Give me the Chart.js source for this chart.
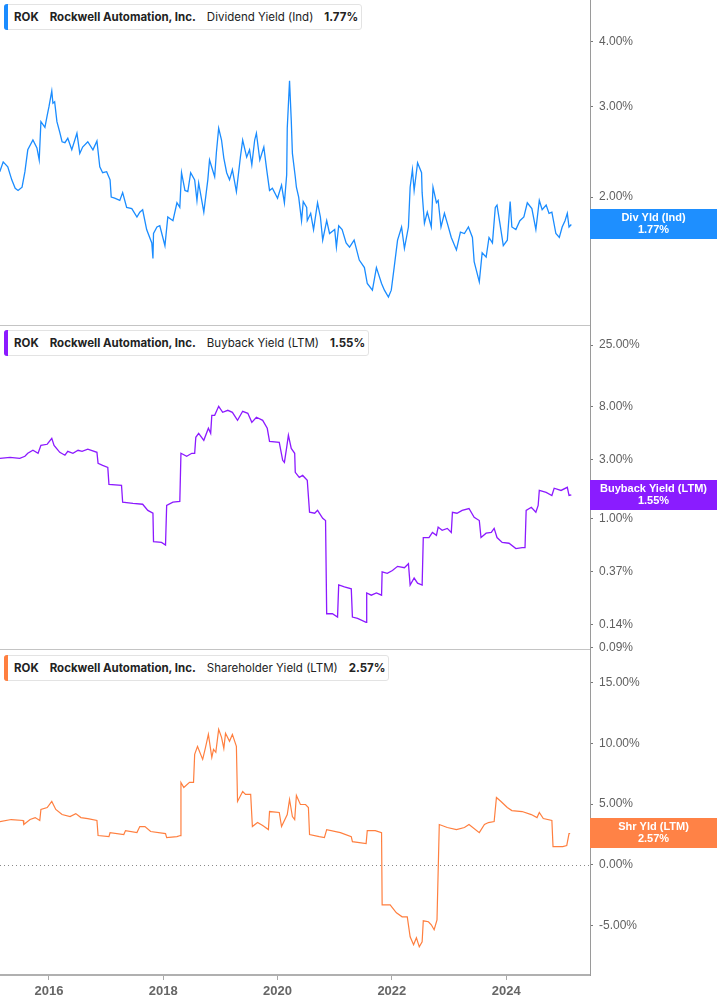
<!DOCTYPE html>
<html>
<head>
<meta charset="utf-8">
<script src="https://cdn.jsdelivr.net/npm/chart.js@4.4.1/dist/chart.umd.min.js"></script>
<style>
  html, body { margin: 0; padding: 0; background: #fff; }
  #wrap { position: relative; width: 717px; height: 1005px; overflow: hidden; }
  canvas { position: absolute; left: 0; }
  .legend {
    position: absolute; left: 4px; height: 26px; box-sizing: border-box;
    display: flex; align-items: center; gap: 11px; padding: 0 3px 0 9px;
    border: 1px solid #e3e3e3; border-radius: 3px; background: #fff;
    font-family: Inter, "Noto Sans", sans-serif; font-size: 11.5px; color: #222; z-index: 5;
  }
  .legend::before {
    content: ''; position: absolute; left: -1px; top: -1px; bottom: -1px; width: 4px;
    border-radius: 3px 0 0 3px; background: var(--c);
  }
  .legend b { font-weight: 700; }
  .sep { position: absolute; left: 0; width: 590px; height: 1px; background: #c4c4c4; z-index: 4; }
</style>
</head>
<body>
<div id="wrap">
  <canvas id="divChart" width="717" height="325" style="top:0"></canvas>
  <canvas id="buyChart" width="717" height="335" style="top:325px"></canvas>
  <canvas id="shrChart" width="717" height="355" style="top:650px"></canvas>
  <div class="sep" style="top:325px"></div>
  <div class="sep" style="top:649px"></div>
  <div class="legend" style="top:4px;--c:#1a8cff"><b>ROK</b><b>Rockwell Automation, Inc.</b><span>Dividend Yield (Ind)</span><b id="divLast"></b></div>
  <div class="legend" style="top:330px;--c:#8c1aff"><b>ROK</b><b>Rockwell Automation, Inc.</b><span>Buyback Yield (LTM)</span><b id="buyLast"></b></div>
  <div class="legend" style="top:655px;--c:#ff7f3f"><b>ROK</b><b>Rockwell Automation, Inc.</b><span>Shareholder Yield (LTM)</span><b id="shrLast"></b></div>
</div>
<script>
// time axis in decimal years
const xStart = 2015.144;
const xEnd = 2025.467;
const yearTicks = [2016, 2018, 2020, 2022, 2024];

// Dividend Yield (Ind), %
const divDates = [
  2015.14, 2015.20, 2015.28, 2015.35, 2015.41, 2015.46, 2015.53, 2015.58, 2015.63, 2015.72,
  2015.79, 2015.83, 2015.86, 2015.93, 2015.97, 2016.00, 2016.05, 2016.07, 2016.10, 2016.14,
  2016.19, 2016.23, 2016.28, 2016.33, 2016.40, 2016.49, 2016.54, 2016.59, 2016.68, 2016.77,
  2016.84, 2016.89, 2016.94, 2017.01, 2017.07, 2017.09, 2017.15, 2017.24, 2017.29, 2017.36,
  2017.45, 2017.54, 2017.59, 2017.64, 2017.71, 2017.80, 2017.82, 2017.83, 2017.89, 2017.94,
  2018.03, 2018.08, 2018.17, 2018.24, 2018.29, 2018.32, 2018.38, 2018.43, 2018.48, 2018.55,
  2018.59, 2018.62, 2018.71, 2018.78, 2018.81, 2018.90, 2018.93, 2018.97, 2019.02, 2019.06,
  2019.11, 2019.16, 2019.21, 2019.28, 2019.35, 2019.39, 2019.46, 2019.51, 2019.55, 2019.60,
  2019.63, 2019.69, 2019.76, 2019.81, 2019.86, 2019.91, 2020.00, 2020.07, 2020.12, 2020.16,
  2020.17, 2020.21, 2020.24, 2020.26, 2020.31, 2020.33, 2020.37, 2020.42, 2020.45, 2020.51,
  2020.52, 2020.58, 2020.63, 2020.70, 2020.75, 2020.79, 2020.86, 2020.91, 2021.00, 2021.03,
  2021.07, 2021.13, 2021.20, 2021.26, 2021.34, 2021.43, 2021.52, 2021.57, 2021.66, 2021.73,
  2021.82, 2021.87, 2021.94, 2021.99, 2022.04, 2022.10, 2022.17, 2022.22, 2022.29, 2022.32,
  2022.36, 2022.39, 2022.45, 2022.52, 2022.53, 2022.57, 2022.62, 2022.69, 2022.72, 2022.78,
  2022.81, 2022.86, 2022.92, 2022.97, 2023.04, 2023.13, 2023.20, 2023.27, 2023.34, 2023.41,
  2023.44, 2023.48, 2023.53, 2023.58, 2023.65, 2023.70, 2023.76, 2023.81, 2023.84, 2023.89,
  2023.95, 2024.02, 2024.07, 2024.10, 2024.17, 2024.24, 2024.31, 2024.37, 2024.45, 2024.52,
  2024.58, 2024.63, 2024.70, 2024.75, 2024.80, 2024.87, 2024.93, 2024.98, 2025.03, 2025.07,
  2025.10, 2025.14
];
const divValues = [
  2.24, 2.34, 2.29, 2.16, 2.08, 2.06, 2.09, 2.24, 2.47, 2.58,
  2.49, 2.36, 2.80, 2.73, 2.88, 2.99, 3.21, 3.04, 3.06, 2.80,
  2.67, 2.56, 2.55, 2.60, 2.47, 2.66, 2.43, 2.50, 2.56, 2.47,
  2.57, 2.29, 2.23, 2.24, 2.16, 2.00, 1.99, 1.97, 2.04, 1.91,
  1.90, 1.83, 1.87, 1.89, 1.73, 1.63, 1.52, 1.70, 1.75, 1.76,
  1.61, 1.83, 1.80, 1.95, 1.91, 2.23, 2.06, 2.05, 2.23, 2.16,
  1.97, 2.13, 1.87, 2.16, 2.36, 2.19, 2.44, 2.72, 2.58, 2.38,
  2.23, 2.16, 2.26, 2.05, 2.39, 2.58, 2.39, 2.47, 2.31, 2.58,
  2.66, 2.36, 2.50, 2.26, 2.06, 2.08, 1.99, 2.11, 1.95, 2.21,
  2.72, 3.36, 2.82, 2.43, 2.19, 2.09, 2.00, 1.80, 1.96, 1.91,
  1.80, 1.86, 1.73, 1.95, 1.83, 1.65, 1.80, 1.70, 1.73, 1.60,
  1.76, 1.73, 1.63, 1.60, 1.65, 1.51, 1.46, 1.36, 1.32, 1.46,
  1.36, 1.32, 1.28, 1.32, 1.46, 1.65, 1.75, 1.59, 1.75, 2.09,
  2.26, 2.06, 2.33, 2.23, 2.04, 1.78, 1.87, 1.75, 2.09, 1.95,
  1.97, 1.75, 1.86, 1.78, 1.67, 1.58, 1.71, 1.70, 1.75, 1.67,
  1.50, 1.44, 1.37, 1.56, 1.53, 1.67, 1.63, 1.91, 1.93, 1.78,
  1.61, 1.65, 1.96, 1.75, 1.73, 1.80, 1.83, 1.95, 1.90, 1.73,
  1.97, 1.89, 1.93, 1.86, 1.87, 1.70, 1.67, 1.75, 1.80, 1.86,
  1.75, 1.77
];
const divRange = [1.13, 4.82];
const divTicks = [2, 3, 4];

// Buyback Yield (LTM), %
const buyDates = [
  2015.14, 2015.32, 2015.49, 2015.58, 2015.63, 2015.72, 2015.81, 2015.86, 2015.97, 2016.05,
  2016.09, 2016.19, 2016.28, 2016.33, 2016.42, 2016.51, 2016.58, 2016.68, 2016.84, 2016.86,
  2016.94, 2017.03, 2017.05, 2017.27, 2017.29, 2017.47, 2017.64, 2017.73, 2017.82, 2017.83,
  2017.97, 2018.04, 2018.06, 2018.17, 2018.29, 2018.31, 2018.41, 2018.50, 2018.55, 2018.57,
  2018.62, 2018.71, 2018.79, 2018.83, 2018.85, 2018.90, 2018.97, 2019.04, 2019.13, 2019.21,
  2019.30, 2019.39, 2019.48, 2019.55, 2019.63, 2019.74, 2019.82, 2019.86, 2020.03, 2020.09,
  2020.12, 2020.16, 2020.19, 2020.24, 2020.30, 2020.31, 2020.38, 2020.44, 2020.52, 2020.56,
  2020.65, 2020.70, 2020.79, 2020.84, 2020.86, 2020.96, 2021.05, 2021.07, 2021.17, 2021.29,
  2021.31, 2021.40, 2021.55, 2021.56, 2021.64, 2021.73, 2021.82, 2021.83, 2021.92, 2022.01,
  2022.10, 2022.22, 2022.29, 2022.32, 2022.39, 2022.45, 2022.53, 2022.55, 2022.65, 2022.71,
  2022.78, 2022.81, 2022.88, 2022.97, 2023.04, 2023.06, 2023.14, 2023.23, 2023.35, 2023.44,
  2023.53, 2023.56, 2023.65, 2023.74, 2023.79, 2023.84, 2023.93, 2024.05, 2024.17, 2024.28,
  2024.33, 2024.35, 2024.44, 2024.52, 2024.56, 2024.58, 2024.70, 2024.80, 2024.84, 2024.96,
  2025.07, 2025.10, 2025.14
];
const buyValues = [
  3.05, 3.11, 3.05, 3.17, 3.35, 3.54, 3.35, 3.88, 3.96, 4.42,
  3.88, 3.41, 3.23, 3.47, 3.35, 3.54, 3.47, 3.61, 3.41, 2.78,
  2.68, 2.58, 1.88, 1.85, 1.35, 1.32, 1.30, 1.16, 1.10, 0.65,
  0.64, 0.61, 1.27, 1.35, 1.37, 3.35, 3.17, 3.35, 3.35, 4.51,
  4.85, 4.26, 5.33, 4.85, 6.78, 6.78, 8.02, 7.17, 7.44, 7.17,
  6.18, 7.31, 7.04, 5.95, 6.54, 6.18, 5.33, 4.18, 4.11, 2.94,
  2.83, 3.74, 4.68, 3.67, 3.35, 2.35, 2.14, 2.22, 2.03, 1.12,
  1.10, 1.16, 1.00, 0.96, 0.17, 0.17, 0.16, 0.29, 0.28, 0.27,
  0.16, 0.156, 0.145, 0.25, 0.24, 0.25, 0.24, 0.37, 0.36, 0.38,
  0.41, 0.40, 0.43, 0.29, 0.33, 0.30, 0.29, 0.70, 0.70, 0.77,
  0.73, 0.85, 0.80, 0.83, 0.77, 1.12, 1.10, 1.16, 1.20, 1.02,
  0.96, 0.70, 0.76, 0.77, 0.83, 0.70, 0.64, 0.63, 0.57, 0.58,
  0.58, 1.16, 1.23, 1.12, 1.27, 1.68, 1.62, 1.53, 1.75, 1.68,
  1.78, 1.53, 1.55
];
const buyRange = [0.0867, 36.3];
const buyTicks = [0.09, 0.14, 0.37, 1, 3, 8, 25];

// Shareholder Yield (LTM), %
const shrDates = [
  2015.14, 2015.34, 2015.55, 2015.56, 2015.67, 2015.76, 2015.84, 2015.86, 2015.97, 2016.05,
  2016.12, 2016.23, 2016.37, 2016.47, 2016.56, 2016.68, 2016.84, 2016.86, 2017.05, 2017.07,
  2017.31, 2017.34, 2017.54, 2017.59, 2017.68, 2017.78, 2018.04, 2018.06, 2018.24, 2018.30,
  2018.31, 2018.36, 2018.46, 2018.53, 2018.55, 2018.60, 2018.69, 2018.74, 2018.79, 2018.85,
  2018.88, 2018.92, 2018.97, 2019.02, 2019.06, 2019.09, 2019.16, 2019.21, 2019.28, 2019.30,
  2019.39, 2019.44, 2019.53, 2019.56, 2019.65, 2019.74, 2019.84, 2019.86, 2020.03, 2020.07,
  2020.17, 2020.21, 2020.26, 2020.30, 2020.33, 2020.40, 2020.49, 2020.54, 2020.56, 2020.73,
  2020.82, 2020.86, 2021.10, 2021.29, 2021.31, 2021.55, 2021.57, 2021.71, 2021.82, 2021.83,
  2021.97, 2022.08, 2022.18, 2022.27, 2022.32, 2022.38, 2022.43, 2022.48, 2022.53, 2022.55,
  2022.64, 2022.69, 2022.74, 2022.79, 2022.83, 2022.97, 2023.13, 2023.27, 2023.35, 2023.53,
  2023.62, 2023.69, 2023.79, 2023.83, 2023.91, 2024.02, 2024.10, 2024.28, 2024.44, 2024.54,
  2024.58, 2024.65, 2024.80, 2024.82, 2024.99, 2025.06, 2025.10, 2025.12
];
const shrValues = [
  3.55, 3.72, 3.64, 3.31, 3.72, 3.88, 3.64, 4.55, 4.71, 5.21,
  4.55, 4.13, 3.97, 4.21, 3.88, 3.80, 3.64, 2.40, 2.31, 2.64,
  2.48, 2.81, 2.64, 3.14, 3.14, 2.73, 2.56, 2.23, 2.31, 2.40,
  6.78, 6.36, 6.78, 6.78, 9.09, 9.75, 8.68, 9.67, 10.74, 8.84,
  9.50, 9.26, 11.16, 10.50, 9.59, 10.83, 10.17, 10.74, 9.75, 5.21,
  6.03, 5.79, 5.79, 3.14, 3.47, 3.22, 2.89, 4.38, 4.30, 3.14,
  4.13, 5.37, 3.97, 3.72, 5.70, 4.96, 4.96, 4.71, 2.48, 2.31,
  2.23, 2.89, 2.64, 2.31, 1.90, 1.74, 2.81, 2.81, 2.64, -3.31,
  -3.31, -3.97, -4.30, -4.30, -5.95, -6.61, -6.03, -6.78, -6.36, -4.63,
  -4.71, -4.96, -5.37, -4.55, 3.31, 3.06, 2.89, 3.06, 3.31, 2.64,
  3.31, 3.47, 3.55, 5.54, 5.21, 4.71, 4.46, 4.38, 4.13, 3.88,
  4.30, 3.80, 3.64, 1.49, 1.49, 1.57, 2.56, 2.57
];
const shrRange = [-9.1, 17.7];
const shrTicks = [-5, 0, 5, 10, 15];

const tickFont = { family: '"Liberation Sans", Arial, sans-serif', size: 12 };

// value tag on the right axis at the last point
const badgePlugin = {
  id: 'badge',
  afterDraw(chart, args, opts) {
    if (!opts.text) return;
    const { ctx, chartArea, scales } = chart;
    const pts = chart.data.datasets[0].data;
    const last = pts[pts.length - 1].y;
    const y = Math.round(scales.y.getPixelForValue(last));
    const x0 = chartArea.right;
    const w = chart.width - x0;
    ctx.save();
    ctx.fillStyle = opts.color;
    ctx.fillRect(x0, y - 15, w, 30);
    ctx.fillStyle = '#fff';
    ctx.font = 'bold 11px "Liberation Sans", Arial, sans-serif';
    ctx.textAlign = 'center';
    ctx.textBaseline = 'middle';
    ctx.fillText(opts.text, x0 + w / 2, y - 6);
    ctx.fillText(last.toFixed(2) + '%', x0 + w / 2, y + 6);
    ctx.restore();
  }
};

const zeroLinePlugin = {
  id: 'zeroLine',
  beforeDatasetsDraw(chart, args, opts) {
    if (!opts.show) return;
    const { ctx, chartArea, scales } = chart;
    const y = Math.round(scales.y.getPixelForValue(0)) + 0.5;
    ctx.save();
    ctx.strokeStyle = '#8a8a8a';
    ctx.lineWidth = 1;
    ctx.setLineDash([1, 3]);
    ctx.beginPath();
    ctx.moveTo(chartArea.left, y);
    ctx.lineTo(chartArea.right, y);
    ctx.stroke();
    ctx.restore();
  }
};

function makePanel(id, cfg) {
  const showX = !!cfg.showX;
  return new Chart(document.getElementById(id), {
    type: 'line',
    data: {
      datasets: [{
        data: cfg.dates.map((d, i) => ({ x: d, y: cfg.values[i] })),
        borderColor: cfg.color,
        borderWidth: cfg.width,
        pointRadius: 0,
        tension: 0,
        fill: false
      }]
    },
    options: {
      responsive: false,
      animation: false,
      events: [],
      layout: { padding: { left: 0, right: 0, top: 0, bottom: cfg.padBottom || 0 } },
      plugins: {
        legend: { display: false },
        tooltip: { enabled: false },
        badge: { text: cfg.badge, color: cfg.badgeColor },
        zeroLine: { show: !!cfg.zero }
      },
      scales: {
        x: {
          type: 'linear',
          min: xStart,
          max: xEnd,
          bounds: 'data',
          display: showX,
          afterBuildTicks: s => { s.ticks = yearTicks.map(v => ({ value: v })); },
          afterFit: s => { s.height = showX ? 30 : 0; s.paddingLeft = 0; s.paddingRight = 0; },
          ticks: {
            callback: v => String(v),
            color: '#666',
            font: { family: tickFont.family, size: 13, weight: 'bold' },
            padding: 4,
            maxRotation: 0,
            autoSkip: false
          },
          grid: { drawOnChartArea: false, tickLength: 5, color: '#a8a8a8', tickColor: '#a8a8a8' },
          border: { color: '#b0b0b0', width: 2 }
        },
        y: {
          type: cfg.log ? 'logarithmic' : 'linear',
          position: 'right',
          min: cfg.range[0],
          max: cfg.range[1],
          bounds: 'data',
          afterBuildTicks: s => { s.ticks = cfg.ticks.map(v => ({ value: v })); },
          afterFit: s => { s.width = 127; s.paddingTop = 0; s.paddingBottom = 0; },
          ticks: {
            callback: v => Number(v).toFixed(2) + '%',
            color: '#606060',
            font: tickFont,
            padding: 6,
            autoSkip: false
          },
          grid: { drawOnChartArea: false, tickLength: 3, color: '#777', tickColor: '#777' },
          border: { color: '#9a9a9a', width: 1 }
        }
      }
    },
    plugins: [badgePlugin, zeroLinePlugin]
  });
}

makePanel('divChart', {
  dates: divDates, values: divValues, color: '#1a8cff', width: 1.3,
  badge: 'Div Yld (Ind)', badgeColor: '#1e8fff',
  log: true, range: divRange, ticks: divTicks
});
makePanel('buyChart', {
  dates: buyDates, values: buyValues, color: '#8c1aff', width: 1.3,
  badge: 'Buyback Yield (LTM)', badgeColor: '#8a1cff',
  log: true, range: buyRange, ticks: buyTicks, padBottom: 10
});
makePanel('shrChart', {
  dates: shrDates, values: shrValues, color: '#ff7f3f', width: 1.2,
  badge: 'Shr Yld (LTM)', badgeColor: '#ff8246',
  log: false, range: shrRange, ticks: shrTicks, zero: true, showX: true
});

document.getElementById('divLast').textContent = divValues[divValues.length - 1].toFixed(2) + '%';
document.getElementById('buyLast').textContent = buyValues[buyValues.length - 1].toFixed(2) + '%';
document.getElementById('shrLast').textContent = shrValues[shrValues.length - 1].toFixed(2) + '%';
</script>
</body>
</html>
